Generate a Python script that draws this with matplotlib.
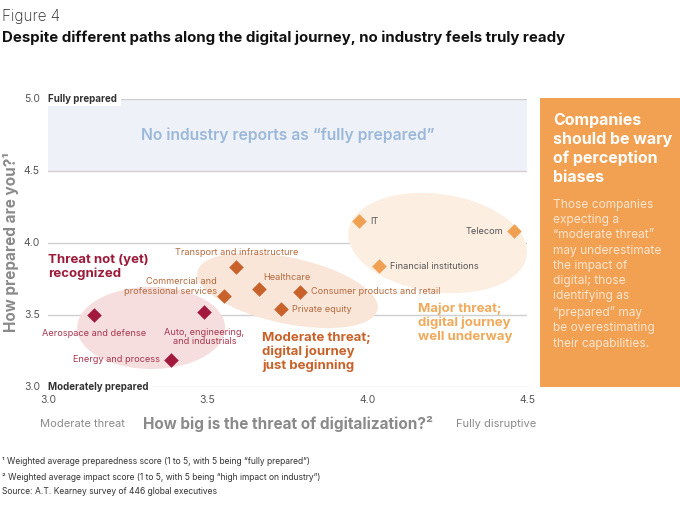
import numpy as np
import matplotlib.pyplot as plt
from matplotlib.patches import Polygon, Rectangle

plt.rcParams['font.family'] = ['Inter', 'DejaVu Sans']

# industries: threat (x) vs preparedness (y)
red_names = ["Aerospace and defense", "Auto, engineering,\nand industrials", "Energy and process"]
red_x = [3.145, 3.49, 3.385]
red_y = [3.50, 3.52, 3.19]

mid_names = ["Transport and infrastructure", "Commercial and\nprofessional services", "Healthcare",
             "Consumer products and retail", "Private equity"]
mid_x = [3.59, 3.55, 3.66, 3.79, 3.73]
mid_y = [3.83, 3.63, 3.68, 3.66, 3.54]

maj_names = ["IT", "Telecom", "Financial institutions"]
maj_x = [3.975, 4.46, 4.035]
maj_y = [4.15, 4.08, 3.84]

xticks = [3.0, 3.5, 4.0, 4.5]
yticks = [3.0, 3.5, 4.0, 4.5, 5.0]

RED = "#a3183d"
MID = "#c8622a"
MAJ = "#f0a052"
GRID = "#cfcfcf"

W, H = 680, 513
fig = plt.figure(figsize=(6.8, 5.13), dpi=100)
ax = fig.add_axes([48 / W, (H - 387) / H, (527 - 48) / W, (387 - 99) / H])
ax.set_xlim(3.0, 4.5)
ax.set_ylim(3.0, 5.0)
ax.axis("off")

SX = (527 - 48) / 1.5   # px per unit x
SY = (387 - 99) / 2.0   # px per unit y


def blob(cx, cy, a, b, ang, color):
    t = np.linspace(0, 2 * np.pi, 200)
    r = np.deg2rad(ang)
    px = a * np.cos(t) * np.cos(r) - b * np.sin(t) * np.sin(r)
    py = a * np.cos(t) * np.sin(r) + b * np.sin(t) * np.cos(r)
    pts = np.column_stack([cx + px / SX, cy + py / SY])
    ax.add_patch(Polygon(pts, closed=True, facecolor=color, edgecolor="none", zorder=1))


# blue band
ax.add_patch(Rectangle((3.0, 4.5), 1.5, 0.5, facecolor="#eef2f8", edgecolor="none", zorder=0))
ax.text(3.75, 4.75, "No industry reports as \u201cfully prepared\u201d", ha="center", va="center",
        fontsize=11.3, fontweight="semibold", color="#9bb8da", zorder=3)

# grid lines
for y in yticks:
    ax.plot([3.0, 4.5], [y, y], color=GRID, lw=1, zorder=0.5)
    ax.text(-0.017, (y - 3.0) / 2.0, f"{y:.1f}", transform=ax.transAxes, ha="right", va="center",
            fontsize=7.5, color="#555555")
for x in xticks:
    ax.text(x, -0.045, f"{x:.1f}", transform=ax.get_xaxis_transform(), ha="center", va="center",
            fontsize=7.5, color="#555555")

ax.text(3.0, 5.0, "Fully prepared ", ha="left", va="center", fontsize=7, fontweight="bold",
        color="#333333", zorder=3, bbox=dict(facecolor="white", edgecolor="none", pad=1.5))
ax.text(3.0, 3.0, "Moderately prepared ", ha="left", va="center", fontsize=7, fontweight="bold",
        color="#333333", zorder=3, bbox=dict(facecolor="white", edgecolor="none", pad=1.5))

# clusters
blob(3.323, 3.41, 74, 41, 0, "#f5dedd")
blob(3.75, 3.67, 92, 33, -12, "#f9e6d8")
blob(4.22, 4.0, 90, 49, -8, "#fcefe2")

ax.scatter(red_x, red_y, marker="D", s=55, color=RED, zorder=4, linewidths=0)
ax.scatter(mid_x, mid_y, marker="D", s=55, color=MID, zorder=4, linewidths=0)
ax.scatter(maj_x, maj_y, marker="D", s=55, color=MAJ, zorder=4, linewidths=0)

lab = dict(fontsize=6.6, zorder=5)
# offsets in points, alignment
red_pos = [((0, -13), "center", "center"), ((0, -18), "center", "center"), ((-8, 0), "right", "center")]
mid_pos = [((0, 11), "center", "center"), ((-5, 7), "right", "center"), ((3, 8), "left", "center"),
           ((8, 0), "left", "center"), ((8, 0), "left", "center")]
maj_pos = [((8, 0), "left", "center"), ((-8, 0), "right", "center"), ((8, 0), "left", "center")]
for names, xs, ys, pos, col in [(red_names, red_x, red_y, red_pos, "#a8374f"),
                                 (mid_names, mid_x, mid_y, mid_pos, "#b56a3d"),
                                 (maj_names, maj_x, maj_y, maj_pos, "#555555")]:
    for n, x, y, (off, ha, va) in zip(names, xs, ys, pos):
        ax.annotate(n, (x, y), xytext=off, textcoords="offset points", ha=ha, va=va,
                    color=col, linespacing=1.05, **lab)

big = dict(fontsize=9.5, fontweight="bold", ha="left", va="top", linespacing=1.17, zorder=5)
ax.text(3.0, 3.925, "Threat not (yet)\nrecognized", color="#9b1b3a", **big)
ax.text(3.67, 3.385, "Moderate threat;\ndigital journey\njust beginning", color=MID, **big)
ax.text(4.16, 3.585, "Major threat;\ndigital journey\nwell underway", color="#f0aa5c", **big)

# axis titles
fig.text(11 / W, 1 - 242 / H, "How prepared are you?\u00b9", rotation=90, ha="center", va="center",
         fontsize=11, fontweight="bold", color="#8a8a8a")
fig.text(288 / W, 1 - 424 / H, "How big is the threat of digitalization?\u00b2", ha="center", va="center",
         fontsize=11, fontweight="bold", color="#8a8a8a")
fig.text(82 / W, 1 - 424 / H, "Moderate threat", ha="center", va="center", fontsize=8, color="#8a8a8a")
fig.text(496 / W, 1 - 424 / H, "Fully disruptive", ha="center", va="center", fontsize=8, color="#8a8a8a")

# title
fig.text(2 / W, 1 - 16 / H, "Figure 4", ha="left", va="center", fontsize=11, fontweight="light", color="#222222")
fig.text(2 / W, 1 - 38 / H, "Despite different paths along the digital journey, no industry feels truly ready",
         ha="left", va="center", fontsize=10.8, fontweight="bold", color="#111111")

# side panel
fig.add_artist(Rectangle((540 / W, (H - 387) / H), 140 / W, 289 / H, transform=fig.transFigure,
                         facecolor="#f2a052", edgecolor="none"))
fig.text(553 / W, 1 - 113 / H, "Companies\nshould be wary\nof perception\nbiases", ha="left", va="top",
         fontsize=11.5, fontweight="bold", color="white", linespacing=1.3)
fig.text(553 / W, 1 - 199 / H,
         "Those companies\nexpecting a\n\u201cmoderate threat\u201d\nmay underestimate\nthe impact of\n"
         "digital; those\nidentifying as\n\u201cprepared\u201d may\nbe overestimating\ntheir capabilities.",
         ha="left", va="top", fontsize=8.6, color="#fde6cf", linespacing=1.36)

# footnotes
foot = ["\u00b9 Weighted average preparedness score (1 to 5, with 5 being \u201cfully prepared\u201d)",
        "\u00b2 Weighted average impact score (1 to 5, with 5 being \u201chigh impact on industry\u201d)",
        "Source: A.T. Kearney survey of 446 global executives"]
for i, f in enumerate(foot):
    fig.text(2 / W, 1 - (462 + 15 * i) / H, f, ha="left", va="center", fontsize=6.1, color="#333333")

fig.savefig("out.png", dpi=100)
